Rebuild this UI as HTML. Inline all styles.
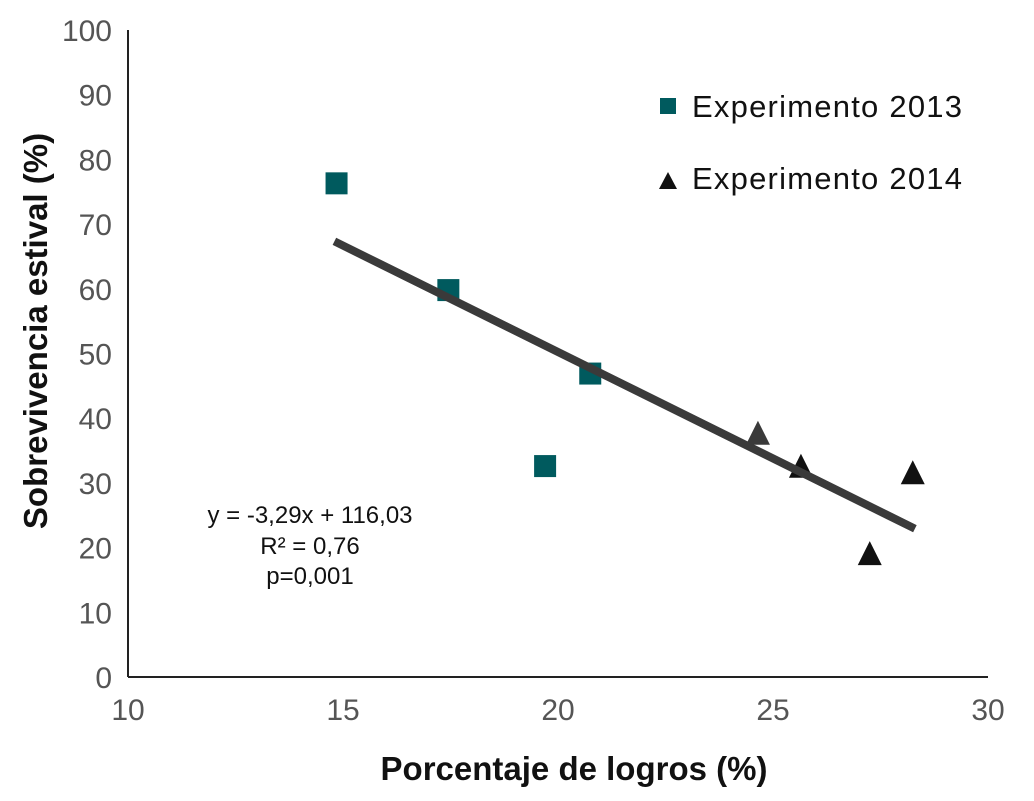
<!DOCTYPE html>
<html><head><meta charset="utf-8"><style>
body{margin:0;background:#fff;}
svg text{font-family:"Liberation Sans",sans-serif;}
</style></head><body>
<svg width="1034" height="796" xmlns="http://www.w3.org/2000/svg">
<g id="axes"></g><g id="marks"></g>
<text x="36" y="342" transform="rotate(-90 36 331)" font-size="33" font-weight="bold" fill="#111" text-anchor="middle">Sobrevivencia estival (%)</text>
<text x="574" y="780" font-size="33" font-weight="bold" fill="#111" text-anchor="middle">Porcentaje de logros (%)</text>
<g font-size="24" fill="#111" text-anchor="middle">
<text x="310" y="523">y = -3,29x + 116,03</text>
<text x="310" y="554">R² = 0,76</text>
<text x="310" y="584">p=0,001</text>
</g>
<g>
<rect x="660" y="98" width="16" height="16" fill="#005a5e"/>
<text x="692" y="117" font-size="31" fill="#111" textLength="270">Experimento 2013</text>
<polygon points="668,172 659,189 677,189" fill="#111"/>
<text x="692" y="189" font-size="31" fill="#111" textLength="270">Experimento 2014</text>
</g>
</svg>
<script>
const xTicks=[10,15,20,25,30];
const yTicks=[0,10,20,30,40,50,60,70,80,90,100];
const x2013=[14.85,17.45,20.75,19.7];
const y2013=[76.3,59.8,46.9,32.6];
const x2014=[24.65,25.65,27.25,28.25];
const y2014=[37.6,32.5,19.0,31.5];
const slope=-3.29, intercept=116.03;
const lineX=[14.8,28.3];
const X=v=>128+(v-10)*43;
const Y=v=>677-v*6.47;
const ns='http://www.w3.org/2000/svg';
function mk(t,a,p){const e=document.createElementNS(ns,t);for(const k in a)e.setAttribute(k,a[k]);p.appendChild(e);return e;}
const ax=document.getElementById('axes'), mg=document.getElementById('marks');
let l=mk('line',{x1:X(10),y1:Y(0),x2:X(30),y2:Y(0),stroke:'#222','stroke-width':2},ax);


l=mk('line',{x1:X(10),y1:Y(0),x2:X(10),y2:Y(100),stroke:'#222','stroke-width':2},ax);


xTicks.forEach(v=>{const t=mk('text',{x:X(v),y:720,'font-size':30,fill:'#555','text-anchor':'middle'},ax);t.textContent=v;

});
yTicks.forEach(v=>{const t=mk('text',{x:112,y:Y(v)+11,'font-size':30,fill:'#555','text-anchor':'end'},ax);t.textContent=v;

});
x2013.forEach((v,i)=>{const r=mk('rect',{x:X(v)-11,y:Y(y2013[i])-11,width:22,height:22,fill:'#005a5e'},mg);

});
x2014.forEach((v,i)=>{const cx=X(v),cy=Y(y2014[i]);const p=mk('polygon',{points:`${cx},${cy-13} ${cx-12},${cy+11} ${cx+12},${cy+11}`,fill:i==0?'#3a3a3a':'#111'},mg);

});
l=mk('line',{x1:X(lineX[0]),y1:Y(slope*lineX[0]+intercept),x2:X(lineX[1]),y2:Y(slope*lineX[1]+intercept),stroke:'#3a3a3a','stroke-width':8},mg);


</script>
</body></html>
